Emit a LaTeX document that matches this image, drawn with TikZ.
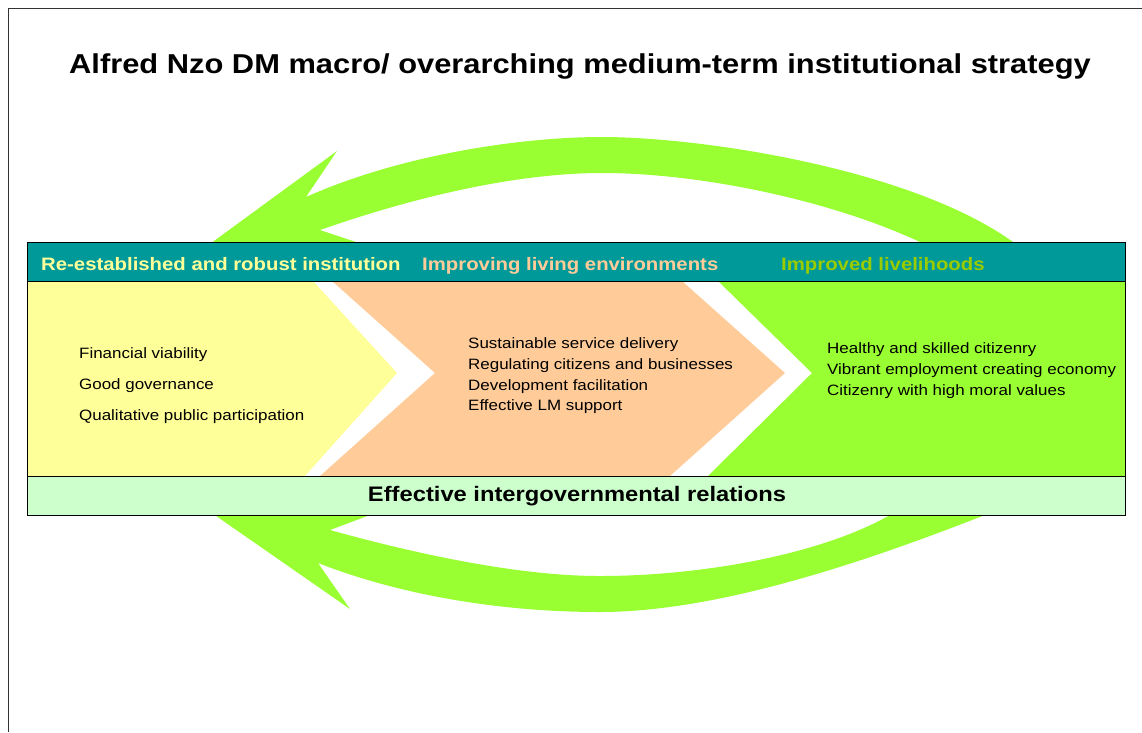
\documentclass[tikz,border=0pt]{standalone}
\usepackage{fontspec}
\setmainfont[FakeStretch=1.13]{Liberation Sans}
\definecolor{teal}{HTML}{009999}
\definecolor{paleyellow}{HTML}{FFFF99}
\definecolor{peach}{HTML}{FFCC99}
\definecolor{lime}{HTML}{99FF33}
\definecolor{olive}{HTML}{99CC00}
\definecolor{mint}{HTML}{CCFFCC}
\definecolor{framegray}{HTML}{333333}
\tikzset{
  loop/.style={fill=lime, draw=none},
  chevron/.style={draw=none},
  band/.style={draw=black, line width=1pt},
  headtext/.style={anchor=base west, inner sep=0pt, font=\bfseries\fontsize{18}{20}\selectfont},
  bodytext/.style={anchor=west, inner sep=0pt, font=\fontsize{15}{17}\selectfont},
}
\begin{document}
\begin{tikzpicture}[x=1pt,y=-1pt]
\useasboundingbox (0,0) rectangle (1142,732);
% page frame
\draw[framegray, line width=0.8pt] (8,732) -- (8,8) -- (1142,8);

% title
\node[inner sep=0pt, font=\bfseries\fontsize{27.3}{32}\selectfont] (title) at (580,66)
  {Alfred Nzo DM macro/ overarching medium-term institutional strategy};

% upper feedback arrow
\fill[loop] (1032,250) -- (1013,242)
  .. controls (910,168) and (700,137) .. (602,137)
  .. controls (520,137) and (400,155) .. (306,197)
  -- (337,151) -- (147,290) -- (380,250) -- (320,230)
  .. controls (420,195) and (520,173) .. (602,173)
  .. controls (700,173) and (830,200) .. (920,242)
  -- (936,250) -- cycle;

% lower feedback arrow
\fill[loop] (1010,505) -- (985,515)
  .. controls (870,560) and (720,612) .. (600,612)
  .. controls (500,612) and (400,595) .. (318,563)
  -- (350,609) -- (150,470) -- (410,500) -- (330,530)
  .. controls (420,555) and (520,576) .. (600,576)
  .. controls (700,576) and (820,555) .. (890,515)
  -- (905,505) -- cycle;

% chevrons
\fill[chevron, paleyellow] (27,281) -- (313,281) -- (397,373) -- (305,476) -- (27,476) -- cycle;
\fill[chevron, peach] (332,281) -- (682,281) -- (785,373) -- (670,476) -- (320,476) -- (435,373) -- cycle;
\fill[chevron, lime] (718,281) -- (1125,281) -- (1125,476) -- (708,476) -- (812,373) -- cycle;

% header and footer bars
\filldraw[band, fill=teal] (27,242) rectangle (1125,281);
\filldraw[band, fill=mint] (27,476) rectangle (1125,515);
\draw[band] (27,242) rectangle (1125,515);

% header labels
\node[headtext, text=paleyellow] (h1) at (41,270) {Re-established and robust institution};
\node[headtext, text=peach] (h2) at (422,270) {Improving living environments};
\node[headtext, text=olive] (h3) at (781,270) {Improved livelihoods};

% left chevron content
\node[bodytext] (l1) at (79,355) {Financial viability};
\node[bodytext] (l2) at (79,386) {Good governance};
\node[bodytext] (l3) at (79,417) {Qualitative public participation};

% middle chevron content
\node[bodytext] (m1) at (468,345) {Sustainable service delivery};
\node[bodytext] (m2) at (468,366) {Regulating citizens and businesses};
\node[bodytext] (m3) at (468,387) {Development facilitation};
\node[bodytext] (m4) at (468,407) {Effective LM support};

% right chevron content
\node[bodytext] (r1) at (827,350) {Healthy and skilled citizenry};
\node[bodytext] (r2) at (827,371) {Vibrant employment creating economy};
\node[bodytext] (r3) at (827,392) {Citizenry with high moral values};

% footer label
\node[inner sep=0pt, font=\bfseries\fontsize{21}{24}\selectfont] (foot) at (577,496)
  {Effective intergovernmental relations};
\end{tikzpicture}
\end{document}
